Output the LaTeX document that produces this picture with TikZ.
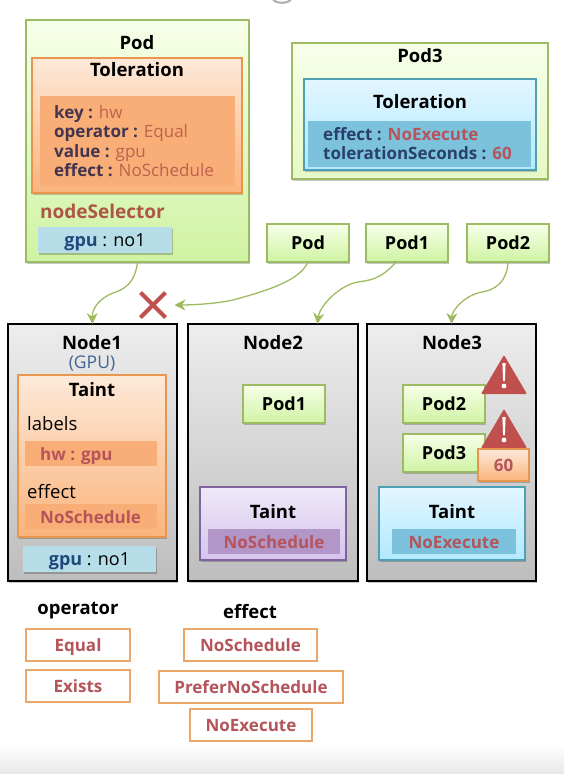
\documentclass[tikz,border=0pt]{standalone}
\usepackage{fontspec}
\setmainfont{Open Sans}
\usetikzlibrary{arrows.meta,positioning,shadows,shapes.misc}
\definecolor{Leaf}{HTML}{9DBB61}
\definecolor{LeafTop}{HTML}{F7FFE9}
\definecolor{LeafLow}{HTML}{CFF3A3}
\definecolor{LeafPale}{HTML}{E6F8C6}
\definecolor{Peach}{HTML}{E8964E}
\definecolor{PeachTop}{HTML}{FDE9D9}
\definecolor{PeachLow}{HTML}{FAB47C}
\definecolor{PeachBand}{HTML}{F8AE76}
\definecolor{Sky}{HTML}{4F9FB5}
\definecolor{SkyTop}{HTML}{E2F6FF}
\definecolor{SkyLow}{HTML}{B2E9FF}
\definecolor{SkyBand}{HTML}{7CC2DC}
\definecolor{Pill}{HTML}{B7DDE8}
\definecolor{Violet}{HTML}{8064A2}
\definecolor{VioletTop}{HTML}{EFE9F8}
\definecolor{VioletLow}{HTML}{D5C4EE}
\definecolor{VioletBand}{HTML}{B296C8}
\definecolor{GreyTop}{HTML}{EDEDEE}
\definecolor{GreyLow}{HTML}{BDBDBD}
\definecolor{Berry}{HTML}{B5545A}
\definecolor{Rust}{HTML}{C0604F}
\definecolor{Ink}{HTML}{43354F}
\definecolor{Navy}{HTML}{2A3F6B}
\definecolor{Steel}{HTML}{1F497D}
\definecolor{Warn}{HTML}{C0504D}
\tikzset{
  softshadow/.style={drop shadow={shadow xshift=.8pt,shadow yshift=-2pt,fill=black,opacity=.22}},
  box/.style={outer sep=0pt,inner sep=0pt,softshadow},
  bigpod/.style={box,draw=Leaf,line width=1.6pt},
  podbox/.style={box,draw=Leaf,line width=1.6pt,top color=LeafTop,bottom color=LeafLow,
    minimum width=82pt,minimum height=38pt,text height=12pt,text depth=0pt,
    font=\fontsize{18}{20}\selectfont\bfseries},
  cube/.style={outer sep=0pt,inner sep=0pt,draw=black,line width=1.8pt,top color=GreyTop,
    bottom color=GreyLow,softshadow,minimum width=169pt,minimum height=257pt},
  peachbox/.style={box,draw=Peach,line width=1.4pt,top color=PeachTop,bottom color=PeachLow},
  skybox/.style={box,draw=Sky,line width=1.6pt,top color=SkyTop,bottom color=SkyLow},
  band/.style={outer sep=0pt,inner sep=0pt,fill=#1},
  pill/.style={box,fill=Pill,text height=12pt,text depth=0pt,font=\fontsize{18}{20}\selectfont},
  title/.style={inner sep=0pt,text height=13pt,text depth=0pt,font=\fontsize{18.5}{20}\selectfont\bfseries},
  plain/.style={inner sep=0pt,anchor=west,text height=13pt,text depth=0pt,font=\fontsize{18.5}{20}\selectfont},
  bandtext/.style={inner sep=0pt,text=Berry,text height=12pt,text depth=0pt,font=\fontsize{17}{20}\selectfont\bfseries},
  keyword/.style={outer sep=0pt,inner sep=0pt,draw=Peach!85!white,line width=1.4pt,fill=white,
    text=Berry,minimum height=32pt,text height=12pt,text depth=0pt,font=\fontsize{17}{20}\selectfont\bfseries},
  arrow/.style={-{Stealth[length=11pt,width=11pt]},draw=Leaf,line width=1.3pt},
  warnsign/.pic={
    \fill[Warn,rounded corners=1pt] (0,0)--(23,39)--(-23,39)--cycle;
    \fill[white] (-1.6,8)--(1.6,8)--(.9,26)--(-.9,26)--cycle;
    \fill[white] (0,31) circle (2.4);
  }
}
\begin{document}
\begin{tikzpicture}[x=1pt,y=-1pt]
    \useasboundingbox (0,0) rectangle (564,774);
    \shade[top color=white,bottom color=black!9] (0,745) rectangle (564,774);
    \draw[black!30,line width=2.2pt] (273,-1) .. controls (275,4) and (289,4) .. (291,-1);
    % big pods
    \node[bigpod,top color=LeafTop,bottom color=LeafLow,minimum width=223pt,minimum height=242pt] (podmain) at (137.5,141) {};
    \node[title] (podmaintitle) at (137,43) {Pod};
    \node[peachbox,minimum width=210pt,minimum height=135pt] (tolbox) at (137,125.5) {};
    \node[title] (toltitle) at (137,70) {Toleration};
    \node[band=PeachBand,minimum width=195pt,minimum height=90pt] (tolband) at (137.5,141) {};
    \node[inner sep=0pt,anchor=west,align=left,font=\fontsize{17}{19.3}\selectfont] (toltext) at (54,141) {%
      \textbf{\color{Ink}key :} \textcolor{Rust}{hw}\\
      \textbf{\color{Ink}operator :} \textcolor{Rust}{Equal}\\
      \textbf{\color{Ink}value :} \textcolor{Rust}{gpu}\\
      \textbf{\color{Ink}effect :} \textcolor{Rust}{NoSchedule}};
    \node[plain,text=Rust!90!black,font=\fontsize{19}{20}\selectfont\bfseries] (selector) at (40,212) {nodeSelector};
    \node[pill,minimum width=134pt,minimum height=26pt] (podgpu) at (105,240) {\textcolor{Steel}{\textbf{gpu}} : no1};
    \node[bigpod,top color=LeafTop,bottom color=LeafPale,minimum width=256pt,minimum height=136pt] (podthree) at (420,111) {};
    \node[title] (podthreetitle) at (420,56) {Pod3};
    \node[skybox,minimum width=232pt,minimum height=91pt] (tolsky) at (420,124.5) {};
    \node[title] (tolskytitle) at (420,102) {Toleration};
    \node[band=SkyBand,minimum width=223pt,minimum height=46pt] (tolskyband) at (419.5,144) {};
    \node[inner sep=0pt,anchor=west,align=left,font=\fontsize{17}{19}\selectfont\bfseries,text=Navy] (tolskytext) at (323,143.5) {%
      effect : \textcolor{Berry}{NoExecute}\\
      tolerationSeconds : \textcolor{Berry}{60}};
    % small pods
    \node[podbox] (pod) at (308,243) {Pod};
    \node[podbox,right=17pt of pod] (podone) {Pod1};
    \node[podbox,right=19pt of podone] (podtwo) {Pod2};
    % nodes
    \node[cube] (nodeone) at (92.5,452.5) {};
    \node[cube,right=11pt of nodeone,minimum width=170pt] (nodetwo) {};
    \node[cube,right=9pt of nodetwo] (nodethree) {};
    \node[title] (nodeonetitle) at (92,343) {Node1};
    \node[inner sep=0pt,text=Steel!85!white,font=\fontsize{17.5}{18}\selectfont] (gpulabel) at (92,364) {(GPU)};
    \node[title] (nodetwotitle) at (273,343) {Node2};
    \node[title] (nodethreetitle) at (452,343) {Node3};
    % node1 taint
    \node[peachbox,minimum width=148pt,minimum height=162pt] (taintone) at (92,456) {};
    \node[title] (taintonetitle) at (92,390) {Taint};
    \node[plain] (labelskey) at (27,424) {labels};
    \node[band=PeachBand,minimum width=132pt,minimum height=25pt] (labelsband) at (91,453.5) {};
    \node[bandtext,anchor=west] (labelstext) at (40,454) {hw : gpu};
    \node[plain] (effectkey) at (27,492) {effect};
    \node[band=PeachBand,minimum width=132pt,minimum height=25pt] (effectband) at (91,516.5) {};
    \node[bandtext,anchor=west] (effecttext) at (40,517) {NoSchedule};
    \node[pill,minimum width=133pt,minimum height=26pt] (nodegpu) at (89.5,559) {\textcolor{Steel}{\textbf{gpu}} : no1};
    % node2
    \node[podbox] (podoneinner) at (284,404) {Pod1};
    \node[box,draw=Violet,line width=1.6pt,top color=VioletTop,bottom color=VioletLow,
      minimum width=146pt,minimum height=73pt] (tainttwo) at (273,523.5) {};
    \node[title] (tainttwotitle) at (273,512) {Taint};
    \node[band=VioletBand,minimum width=132pt,minimum height=25pt] (tainttwoband) at (274,541.5) {};
    \node[bandtext] (tainttwotext) at (274,542) {NoSchedule};
    % node3
    \node[podbox] (podtwoinner) at (444,404) {Pod2};
    \node[podbox] (podthreeinner) at (444,453) {Pod3};
    \pic at (504,355) {warnsign};
    \pic at (504,409) {warnsign};
    \node[peachbox,minimum width=51pt,minimum height=32pt,text=Berry,text height=12pt,text depth=0pt,
      font=\fontsize{17}{20}\selectfont\bfseries] (timer) at (503.5,465) {60};
    \node[skybox,minimum width=146pt,minimum height=73pt] (taintthree) at (452,523.5) {};
    \node[title] (taintthreetitle) at (452,512) {Taint};
    \node[band=SkyBand,minimum width=124pt,minimum height=25pt] (taintthreeband) at (454,541.5) {};
    \node[bandtext] (taintthreetext) at (454,542) {NoExecute};
    % connectors
    \node[cross out,draw=Warn,line width=4pt,minimum size=21pt,inner sep=0pt] (nogo) at (153,305) {};
    \draw[arrow] (podmain.south) .. controls (135,285) and (122,290) .. (113,293)
      .. controls (100,298) and (92,308) .. (nodeone.north);
    \draw[arrow,shorten >=9pt] (pod.south) .. controls (300,280) and (270,290) .. (233,300)
      .. controls (215,304) and (190,305) .. (nogo.east);
    \draw[arrow] (podone.240) .. controls (380,280) and (370,280) .. (358,282)
      .. controls (340,285) and (320,305) .. (nodetwo.71.6);
    \draw[arrow] (podtwo.south) .. controls (507,282) and (495,290) .. (482,292)
      .. controls (465,295) and (452,310) .. (nodethree.north);
    % legend
    \node[title] (operatorkey) at (78,608) {operator};
    \node[keyword,minimum width=104pt] (equal) at (78,645) {Equal};
    \node[keyword,minimum width=104pt] (exists) at (78,686) {Exists};
    \node[title] (effectlegend) at (250,612) {effect};
    \node[keyword,minimum width=133pt] (noschedule) at (250.5,645) {NoSchedule};
    \node[keyword,minimum width=184pt] (prefer) at (251,687) {PreferNoSchedule};
    \node[keyword,minimum width=122pt] (noexecute) at (251,725) {NoExecute};
\end{tikzpicture}
\end{document}
